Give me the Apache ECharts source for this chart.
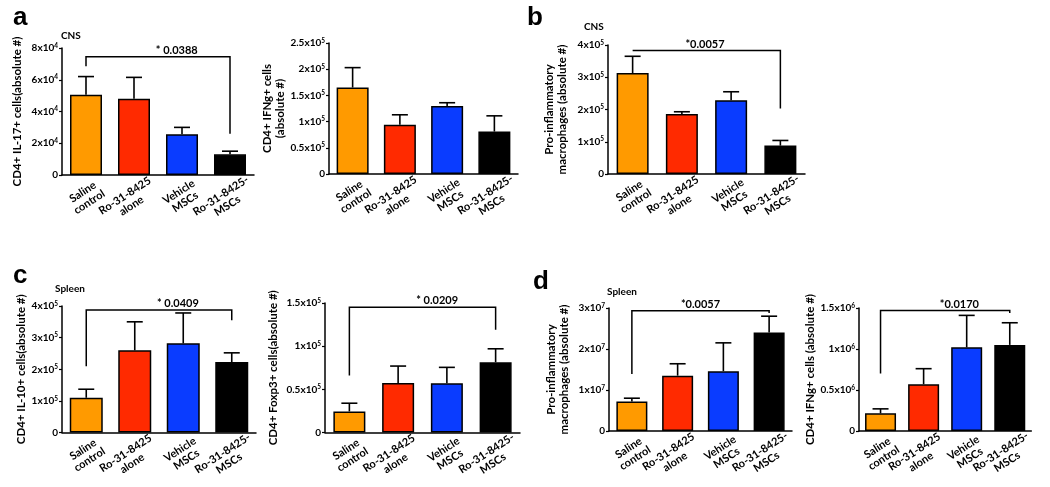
<!DOCTYPE html>
<html>
<head>
<meta charset="utf-8">
<script src="https://cdn.jsdelivr.net/npm/echarts@6/dist/echarts.min.js"></script>
<style>
html,body{margin:0;padding:0;background:#fff;}
#main{width:1050px;height:487px;}
</style>
</head>
<body>
<div id="main"></div>
<script>
// groups (x axis)
var categories = ['Saline\ncontrol', 'Ro-31-8425\nalone', 'Vehicle\nMSCs', 'Ro-31-8425-\nMSCs'];

// a - CNS IL-17
var cnsIl17Mean = [5.05e4, 4.8e4, 2.57e4, 1.3e4];
var cnsIl17Top  = [6.2e4, 6.15e4, 3.0e4, 1.5e4];
var cnsIl17Ticks = ['0', '2x10^4', '4x10^4', '6x10^4', '8x10^4'];
// a - CNS IFNg
var cnsIfngMean = [1.65e5, 0.94e5, 1.30e5, 0.81e5];
var cnsIfngTop  = [2.03e5, 1.13e5, 1.36e5, 1.11e5];
var cnsIfngTicks = ['0', '0.5x10^5', '1x10^5', '1.5x10^5', '2x10^5', '2.5x10^5'];
// b - CNS macrophages
var cnsMacroMean = [3.13e5, 1.86e5, 2.29e5, 0.88e5];
var cnsMacroTop  = [3.65e5, 1.93e5, 2.55e5, 1.04e5];
var cnsMacroTicks = ['0', '1x10^5', '2x10^5', '3x10^5', '4x10^5'];
// c - spleen IL-10
var spleenIl10Mean = [1.1e5, 2.6e5, 2.82e5, 2.23e5];
var spleenIl10Top  = [1.37e5, 3.5e5, 3.78e5, 2.52e5];
var spleenIl10Ticks = ['0', '1x10^5', '2x10^5', '3x10^5', '4x10^5'];
// c - spleen Foxp3
var spleenFoxp3Mean = [0.245e5, 0.575e5, 0.57e5, 0.815e5];
var spleenFoxp3Top  = [0.34e5, 0.77e5, 0.755e5, 0.97e5];
var spleenFoxp3Ticks = ['0', '0.5x10^5', '1x10^5', '1.5x10^5'];
// d - spleen macrophages
var spleenMacroMean = [0.72e7, 1.35e7, 1.46e7, 2.4e7];
var spleenMacroTop  = [0.8e7, 1.64e7, 2.15e7, 2.8e7];
var spleenMacroTicks = ['0', '1x10^7', '2x10^7', '3x10^7'];
// d - spleen IFNg
var spleenIfngMean = [0.215e6, 0.57e6, 1.02e6, 1.05e6];
var spleenIfngTop  = [0.27e6, 0.76e6, 1.41e6, 1.32e6];
var spleenIfngTicks = ['0', '0.5x10^6', '1x10^6', '1.5x10^6'];

// significance brackets: [bar level, left end, right end, label, label position (0..1)]
var bracketA1 = [7.45e4, 6.85e4, 2.6e4, '* 0.0388', 0.63];
var bracketB  = [3.83e5, 3.83e5, 2.03e5, '*0.0057', 0.49];
var bracketC1 = [3.87e5, 2.1e5, 3.55e5, '* 0.0409', 0.63];
var bracketC2 = [1.45e5, 0.66e5, 1.19e5, '* 0.0209', 0.6];
var bracketD1 = [2.93e7, 1.39e7, 2.88e7, '*0.0057', 0.5];
var bracketD2 = [1.47e6, 0.70e6, 1.44e6, '*0.0170', 0.61];

var barColors = ['#ff9a00', '#ff2a00', '#0a3cff', '#000000'];
var FONT = 'Lato';

var panels = [
    {grid: {left: 62, top: 48, width: 192, height: 127}, max: 8e4, interval: 2e4, ticks: cnsIl17Ticks,
     name: 'CD4+ IL-17+ cells(absolute #)', nameGap: 38, mean: cnsIl17Mean, top: cnsIl17Top, bracket: bracketA1, bw: 32},
    {grid: {left: 329, top: 43, width: 189, height: 131}, max: 2.5e5, interval: 0.5e5, ticks: cnsIfngTicks,
     name: 'CD4+ IFNg+ cells\n(absolute #)', nameGap: 37, mean: cnsIfngMean, top: cnsIfngTop, bracket: null, bw: 32},
    {grid: {left: 608, top: 45, width: 197, height: 129}, max: 4e5, interval: 1e5, ticks: cnsMacroTicks,
     name: 'Pro-inflammatory\nmacrophages (absolute #)', nameGap: 39, mean: cnsMacroMean, top: cnsMacroTop, bracket: bracketB, bw: 32},
    {grid: {left: 62, top: 306, width: 194, height: 128}, max: 4e5, interval: 1e5, ticks: spleenIl10Ticks,
     name: 'CD4+ IL-10+ cells(absolute #)', nameGap: 30, mean: spleenIl10Mean, top: spleenIl10Top, bracket: bracketC1, bw: 33},
    {grid: {left: 325, top: 303, width: 195, height: 132}, max: 1.5e5, interval: 0.5e5, ticks: spleenFoxp3Ticks,
     name: 'CD4+ Foxp3+ cells(absolute #)', nameGap: 45, mean: spleenFoxp3Mean, top: spleenFoxp3Top, bracket: bracketC2, bw: 32},
    {grid: {left: 609, top: 308, width: 183, height: 123}, max: 3e7, interval: 1e7, ticks: spleenMacroTicks,
     name: 'Pro-inflammatory\nmacrophages (absolute #)', nameGap: 38, mean: spleenMacroMean, top: spleenMacroTop, bracket: bracketD1, bw: 31},
    {grid: {left: 859, top: 308, width: 181, height: 123}, max: 1.5e6, interval: 0.5e6, ticks: spleenIfngTicks,
     name: 'CD4+ IFNg+ cells (absolute #)', nameGap: 42, mean: spleenIfngMean, top: spleenIfngTop, bracket: bracketD2, bw: 31}
];

function supLabel(ticks) {
    return function (value, index) {
        var t = ticks[index];
        if (t === undefined) return '';
        var p = t.split('^');
        return p.length > 1 ? '{m|' + p[0] + '}{s|' + p[1] + '}' : '{m|' + t + '}';
    };
}

// long group names sit a little lower along the slant
function catLabel(value) {
    var lines = value.split('\n');
    var key = lines[0].length > 8 ? 'l' : 'n';
    return lines.map(function (s) { return '{' + key + '|' + s + '}'; }).join('\n');
}

function errorRender(params, api) {
    var x = api.value(0);
    var base = api.coord([x, api.value(1)]);
    var top = api.coord([x, api.value(2)]);
    var st = {stroke: '#000', lineWidth: 1.6};
    return {
        type: 'group',
        children: [
            {type: 'line', shape: {x1: base[0], y1: base[1], x2: top[0], y2: top[1]}, style: st},
            {type: 'line', shape: {x1: top[0] - 8, y1: top[1], x2: top[0] + 8, y2: top[1]}, style: st}
        ]
    };
}

function bracketRender(params, api) {
    var lvl = api.value(0);
    var pL = api.coord([0, lvl]);
    var pR = api.coord([3, lvl]);
    var eL = api.coord([0, api.value(1)]);
    var eR = api.coord([3, api.value(2)]);
    var frac = api.value(4);
    var tx = pL[0] + (pR[0] - pL[0]) * frac;
    return {
        type: 'group',
        children: [
            {type: 'polyline', shape: {points: [eL, pL, pR, eR]},
             style: {stroke: '#000', lineWidth: 1.5, fill: null}},
            {type: 'text', x: tx, y: pL[1] - 1,
             style: {text: api.value(3), font: 'bold 11px ' + FONT, fill: '#000', align: 'center', verticalAlign: 'bottom'}}
        ]
    };
}

var catText = {color: '#000', fontFamily: FONT, fontWeight: 'bold', fontSize: 11, lineHeight: 12};

var grids = [], xAxes = [], yAxes = [], series = [];
panels.forEach(function (p, i) {
    grids.push(p.grid);
    xAxes.push({
        type: 'category', gridIndex: i, data: categories,
        axisLine: {lineStyle: {color: '#000', width: 1.5}},
        axisTick: {alignWithLabel: true, length: 3, lineStyle: {color: '#000', width: 1.2}},
        axisLabel: {
            interval: 0, rotate: 33, margin: 22, align: 'center', verticalAlign: 'middle',
            formatter: catLabel,
            rich: {
                n: catText,
                l: Object.assign({}, catText, {padding: [0, 14, 0, 0]})
            }
        }
    });
    yAxes.push({
        type: 'value', gridIndex: i, min: 0, max: p.max, interval: p.interval,
        name: p.name, nameLocation: 'middle', nameGap: p.nameGap,
        nameTextStyle: {color: '#000', fontFamily: FONT, fontWeight: 'bold', fontSize: 11.5, lineHeight: 13},
        axisLine: {show: true, lineStyle: {color: '#000', width: 1.5}},
        axisTick: {show: true, length: 3, lineStyle: {color: '#000', width: 1.2}},
        splitLine: {show: false},
        axisLabel: {
            margin: 4, formatter: supLabel(p.ticks),
            rich: {
                m: {color: '#000', fontFamily: FONT, fontWeight: 'bold', fontSize: 10},
                s: {color: '#000', fontFamily: FONT, fontWeight: 'bold', fontSize: 6.5, padding: [0, 0, 5, 0]}
            }
        }
    });
    series.push({
        type: 'bar', xAxisIndex: i, yAxisIndex: i, barWidth: p.bw, z: 2,
        data: p.mean.map(function (v, k) {
            return {value: v, itemStyle: {color: barColors[k], borderColor: '#000', borderWidth: 1.5}};
        })
    });
    series.push({
        type: 'custom', xAxisIndex: i, yAxisIndex: i, z: 3, renderItem: errorRender,
        data: p.mean.map(function (v, k) { return [k, v, p.top[k]]; })
    });
    if (p.bracket) {
        series.push({
            type: 'custom', xAxisIndex: i, yAxisIndex: i, z: 4, renderItem: bracketRender, clip: false,
            data: [p.bracket]
        });
    }
});

var bigLetter = {fontFamily: 'Liberation Sans', fontWeight: 'bold', fontSize: 26, color: '#000'};
var small = {fontFamily: FONT, fontWeight: 'bold', fontSize: 10, color: '#000'};

var myChart = echarts.init(document.getElementById('main'));
var option = {
    backgroundColor: '#fff',
    animation: false,
    title: [
        {text: 'a', left: 8, top: 0, textStyle: bigLetter},
        {text: 'b', left: 522, top: 0, textStyle: bigLetter},
        {text: 'c', left: 8, top: 258, textStyle: bigLetter},
        {text: 'd', left: 528, top: 264, textStyle: bigLetter},
        {text: 'CNS', left: 61, top: 31, textStyle: small, padding: 0},
        {text: 'CNS', left: 584, top: 22, textStyle: small, padding: 0},
        {text: 'Spleen', left: 55, top: 284, textStyle: small, padding: 0},
        {text: 'Spleen', left: 607, top: 287, textStyle: small, padding: 0}
    ],
    grid: grids,
    xAxis: xAxes,
    yAxis: yAxes,
    series: series
};
myChart.setOption(option);
</script>
</body>
</html>
